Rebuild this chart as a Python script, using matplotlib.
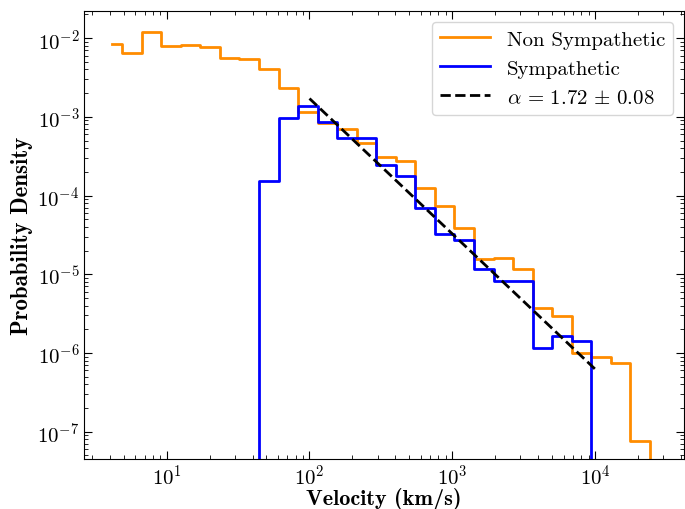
import numpy as np
import matplotlib
matplotlib.use("Agg")
import matplotlib.pyplot as plt

plt.rcParams['font.family'] = 'serif'
plt.rcParams['font.serif'] = ['cmr10']
plt.rcParams['mathtext.fontset'] = 'cm'
plt.rcParams['axes.formatter.use_mathtext'] = True

# bin centres (km/s), log spaced
centers = [4.12, 5.65, 7.74, 10.6, 14.5, 19.9, 27.3, 37.4, 51.2, 70.2,
           96.2, 131.8, 180.6, 247.5, 339.2, 464.7, 636.8, 872.6, 1195.7, 1638.4,
           2245, 3076, 4215, 5776, 7914, 10845, 14860, 20362, 27902]

non_symp = [8.4e-3, 6.4e-3, 1.20e-2, 7.98e-3, 8.2e-3, 7.75e-3, 5.62e-3, 5.41e-3, 4.04e-3, 2.30e-3,
            1.16e-3, 8.3e-4, 7.05e-4, 4.6e-4, 3.05e-4, 2.71e-4, 1.23e-4, 7.4e-5, 3.89e-5, 1.56e-5,
            1.59e-5, 1.16e-5, 3.67e-6, 2.96e-6, 9.9e-7, 8.8e-7, 7.35e-7, 7.6e-8, 0]

symp = [0, 0, 0, 0, 0, 0, 0, 0, 1.51e-4, 9.8e-4,
        1.38e-3, 8.5e-4, 5.35e-4, 5.35e-4, 2.43e-4, 1.78e-4, 6.9e-5, 3.24e-5, 2.74e-5, 1.16e-5,
        8.2e-6, 8.2e-6, 1.14e-6, 1.62e-6, 1.43e-6, 0, 0, 0, 0]

# power-law fit
alpha, alpha_err = 1.72, 0.08
fit_x = [1e2, 1e4]
fit_norm = 1.71e-3  # value at 100 km/s

fig = plt.figure(figsize=(6.85, 5.10), dpi=100)
ax = fig.add_axes([0.123, 0.098, 0.875, 0.878])

ax.step(centers, non_symp, where='mid', color='darkorange', lw=2, label='Non Sympathetic')
ax.step(centers, symp, where='mid', color='blue', lw=2, label='Sympathetic')

fx = np.array(fit_x)
ax.plot(fx, fit_norm * (fx / fit_x[0]) ** (-alpha), 'k--', lw=2,
        label=rf'$\alpha\,=\,{alpha:.2f}\,\pm\,{alpha_err:.2f}$')

ax.set_xscale('log')
ax.set_yscale('log', nonpositive='clip')
ax.set_xlim(2.65, 4.16e4)
ax.set_ylim(4.48e-8, 2.2e-2)

ax.tick_params(which='both', direction='in', top=True, right=True, labelsize=15)
ax.tick_params(which='major', length=6)
ax.tick_params(which='minor', length=3)

ax.set_xlabel('Velocity (km/s)', fontname='cmb10', fontsize=16, labelpad=-1)
ax.set_ylabel('Probability Density', fontname='cmb10', fontsize=16.5, labelpad=3)

ax.legend(loc='upper right', fontsize=15, handlelength=2.4)

fig.savefig('out.png', dpi=100)
